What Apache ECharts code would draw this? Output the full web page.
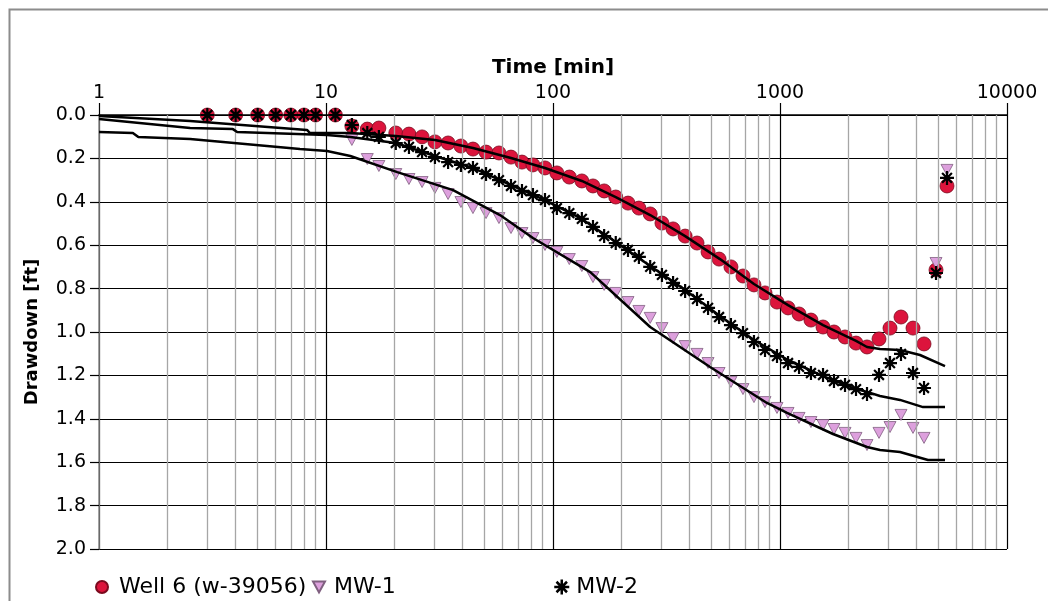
<!DOCTYPE html>
<html>
<head>
<meta charset="utf-8">
<script src="https://cdn.jsdelivr.net/npm/echarts@6/dist/echarts.min.js"></script>
<style>
html,body{margin:0;padding:0;background:#fff;}
#chart{width:1048px;height:601px;}
</style>
</head>
<body>
<div id="chart"></div>
<script>
// ---- data (time in min, drawdown in ft) ----
const sampleTimes = [13, 15.2, 17.1, 20.3, 23.2, 26.5, 30.2, 34.5, 39.3, 44.4, 50.7, 57.8, 65.3, 73, 81.6, 92.2, 104, 118, 134, 150, 168, 189, 214, 239, 268, 302, 338, 382, 431, 482, 539, 608, 687, 768, 859, 970, 1085, 1213, 1369, 1547, 1729, 1934, 2162, 2417, 2730, 3052, 3412, 3854, 4310, 4867, 5441];
const earlyTimes = [3, 4, 5, 6, 7, 8, 9, 11];

const well6Time = earlyTimes.concat(sampleTimes);
const well6Drawdown = [0, 0, 0, 0, 0, 0, 0, 0,
  0.051, 0.065, 0.060, 0.083, 0.088, 0.101, 0.124, 0.129, 0.143, 0.157,
  0.171, 0.175, 0.194, 0.217, 0.230, 0.244, 0.267, 0.286, 0.304, 0.327,
  0.350, 0.378, 0.406, 0.429, 0.456, 0.498, 0.525, 0.558, 0.590, 0.631,
  0.664, 0.700, 0.742, 0.783, 0.820, 0.862, 0.889, 0.917, 0.945, 0.977,
  1.000, 1.023, 1.051, 1.069, 1.032, 0.982, 0.931, 0.982, 1.055, 0.714, 0.327];

const mw1Time = sampleTimes.slice();
const mw1Drawdown = [0.115, 0.203, 0.235, 0.272, 0.295, 0.309, 0.336, 0.364, 0.401, 0.429,
  0.452, 0.475, 0.521, 0.544, 0.567, 0.599, 0.631, 0.664, 0.696, 0.747,
  0.783, 0.820, 0.862, 0.903, 0.935, 0.982, 1.028, 1.065, 1.101, 1.143,
  1.189, 1.230, 1.263, 1.300, 1.323, 1.350, 1.373, 1.396, 1.415, 1.429,
  1.447, 1.465, 1.488, 1.521, 1.465, 1.438, 1.382, 1.442, 1.488, 0.682, 0.253];

const mw2Time = earlyTimes.concat(sampleTimes);
const mw2Drawdown = [0, 0, 0, 0, 0, 0, 0, 0,
  0.046, 0.083, 0.101, 0.129, 0.147, 0.171, 0.194, 0.217, 0.230, 0.244,
  0.272, 0.300, 0.327, 0.350, 0.369, 0.392, 0.429, 0.452, 0.479, 0.516,
  0.558, 0.590, 0.622, 0.654, 0.700, 0.737, 0.774, 0.811, 0.848, 0.889,
  0.931, 0.968, 1.005, 1.046, 1.083, 1.111, 1.143, 1.161, 1.189, 1.198,
  1.226, 1.244, 1.263, 1.286, 1.198, 1.143, 1.101, 1.189, 1.258, 0.728, 0.290];

// fitted model curves
const well6FitTime = [1, 2.52, 8.25, 8.5, 12.8, 20.3, 30.2, 44.4, 65.3, 92.2, 134, 189, 268, 382, 544, 768, 1085, 1547, 2162, 2417, 2757, 3378, 4137, 5332];
const well6FitDrawdown = [0.005, 0.028, 0.069, 0.083, 0.083, 0.097, 0.115, 0.152, 0.198, 0.244, 0.304, 0.378, 0.461, 0.558, 0.664, 0.779, 0.876, 0.968, 1.041, 1.069, 1.078, 1.083, 1.106, 1.157];

const mw2FitTime = [1, 2.52, 3.89, 4.06, 10.1, 12.8, 20.3, 30.2, 44.4, 65.3, 92.2, 134, 189, 268, 382, 544, 768, 1085, 1547, 2162, 2417, 2757, 3378, 4266, 5332];
const mw2FitDrawdown = [0.018, 0.060, 0.065, 0.078, 0.092, 0.101, 0.129, 0.189, 0.244, 0.323, 0.392, 0.479, 0.585, 0.696, 0.806, 0.926, 1.037, 1.129, 1.203, 1.263, 1.276, 1.295, 1.313, 1.346, 1.346];

const mw1FitTime = [1, 1.41, 1.49, 2.52, 7.68, 10.1, 12.8, 20.6, 36.3, 58.4, 81.6, 146, 268, 492, 876, 1074, 1712, 2417, 2757, 3378, 4487, 5332];
const mw1FitDrawdown = [0.078, 0.083, 0.101, 0.111, 0.157, 0.166, 0.189, 0.263, 0.346, 0.461, 0.567, 0.724, 0.977, 1.161, 1.327, 1.373, 1.470, 1.530, 1.544, 1.553, 1.590, 1.590];

// axis ticks
const yTicks = [0, 0.2, 0.4, 0.6, 0.8, 1.0, 1.2, 1.4, 1.6, 1.8, 2.0];
const xTickLabels = ['1', '10', '100', '1000', '10000'];
const minorGridTimes = [2, 3, 4, 5, 6, 7, 8, 9, 20, 30, 40, 50, 60, 70, 80, 90,
  200, 300, 400, 500, 600, 700, 800, 900, 2000, 3000, 4000, 5000, 6000, 7000, 8000, 9000];

const seriesNames = ['Well 6 (w-39056)', 'MW-1', 'MW-2'];

// ---- chart ----
const zip = (a, b) => a.map((v, i) => [v, b[i]]);
const FONT = 'DejaVu Sans';
const triPath = 'path://M0,0L10,0L5,9Z';
const starPath = 'path://M5,0L5,10M0,5L10,5M1.5,1.5L8.5,8.5M1.5,8.5L8.5,1.5';

const chart = echarts.init(document.getElementById('chart'), null, {renderer: 'canvas'});
const fitLine = (name, t, s) => ({
  name: name, type: 'line', data: zip(t, s), symbol: 'none', z: 6,
  lineStyle: {color: '#000', width: 2.5}, silent: true
});

const option = {
  animation: false,
  backgroundColor: '#fff',
  graphic: [{
    type: 'rect', left: 7, top: 7, shape: {width: 1100, height: 700},
    style: {fill: 'none', stroke: '#8c8c8c', lineWidth: 2}, silent: true, z: -1
  }],
  grid: {left: 99, right: 41, top: 115, bottom: 52},
  xAxis: {
    type: 'log', logBase: 10, min: 1, max: 10000, position: 'top',
    name: 'Time [min]', nameLocation: 'middle', nameGap: 37,
    nameTextStyle: {fontFamily: FONT, fontWeight: 'bold', fontSize: 20, color: '#000'},
    axisLine: {show: true, lineStyle: {color: '#000', width: 1.5}},
    axisTick: {show: true, inside: false, length: 12, lineStyle: {color: '#000', width: 1.2}},
    axisLabel: {fontFamily: FONT, fontSize: 19, color: '#000', margin: 12,
      formatter: v => {
        const s = String(Math.round(v));
        return xTickLabels.includes(s) ? s : '';
      }},
    splitLine: {show: true, lineStyle: {color: '#000', width: 1.2}}
  },
  yAxis: {
    type: 'value', inverse: true, min: 0, max: 2, interval: 0.2,
    name: 'Drawdown [ft]', nameLocation: 'middle', nameGap: 58, nameRotate: 90,
    nameTextStyle: {fontFamily: FONT, fontWeight: 'bold', fontSize: 18, color: '#000'},
    axisLine: {show: true, lineStyle: {color: '#8c8c8c', width: 1.5}},
    axisTick: {show: true, inside: false, length: 9, lineStyle: {color: '#000', width: 1.2}},
    axisLabel: {fontFamily: FONT, fontSize: 19, color: '#000', margin: 13,
      formatter: v => yTicks.includes(Math.round(v * 10) / 10) ? v.toFixed(1) : ''},
    splitLine: {show: true, lineStyle: {color: '#000', width: 1.2}}
  },
  legend: [
    {data: [seriesNames[0]], left: 90, top: 571, itemWidth: 12, itemHeight: 12, itemGap: 0,
     textStyle: {fontFamily: FONT, fontSize: 22, color: '#000', padding: [0, 0, 0, 6]}},
    {data: [seriesNames[1]], left: 307, top: 571, itemWidth: 12, itemHeight: 11, itemGap: 0,
     textStyle: {fontFamily: FONT, fontSize: 22, color: '#000', padding: [0, 0, 0, 4]}},
    {data: [seriesNames[2]], left: 548, top: 571, itemWidth: 15, itemHeight: 15, itemGap: 0,
     itemStyle: {color: '#000', borderColor: '#000', borderWidth: 2.5},
     textStyle: {fontFamily: FONT, fontSize: 22, color: '#000', padding: [0, 0, 0, 2]}}
  ],
  series: [
    {
      name: 'grid-minor', type: 'line', data: [], z: 1, silent: true,
      markLine: {
        silent: true, symbol: ['none', 'none'], label: {show: false}, animation: false,
        lineStyle: {color: '#a6a6a6', width: 1.3, type: 'solid'},
        data: minorGridTimes.map(v => ({xAxis: v}))
      }
    },
    {
      name: seriesNames[0], type: 'scatter', data: zip(well6Time, well6Drawdown),
      symbol: 'circle', symbolSize: 14, z: 3,
      itemStyle: {color: '#dc143c', borderColor: '#7a0a1e', borderWidth: 0.8, opacity: 1}
    },
    {
      name: seriesNames[1], type: 'scatter', data: zip(mw1Time, mw1Drawdown),
      symbol: triPath, symbolSize: [12, 11], z: 4,
      itemStyle: {color: '#dda0dd', borderColor: '#806080', borderWidth: 0.8, opacity: 1}
    },
    {
      name: seriesNames[2], type: 'scatter', data: zip(mw2Time, mw2Drawdown),
      symbol: starPath, symbolSize: 14, z: 5,
      itemStyle: {color: '#000', borderColor: '#000', borderWidth: 2.2, opacity: 1}
    },
    fitLine('Well 6 fit', well6FitTime, well6FitDrawdown),
    fitLine('MW-2 fit', mw2FitTime, mw2FitDrawdown),
    fitLine('MW-1 fit', mw1FitTime, mw1FitDrawdown)
  ]
};
chart.setOption(option);
</script>
</body>
</html>
